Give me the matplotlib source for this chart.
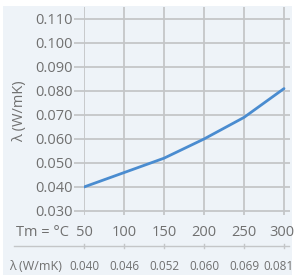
import matplotlib.pyplot as plt
from matplotlib.patches import Rectangle
from matplotlib.lines import Line2D

temps = [50, 100, 150, 200, 250, 300]
lam = [0.040, 0.046, 0.052, 0.060, 0.069, 0.081]
lam_labels = ["0.040", "0.046", "0.052", "0.060", "0.069", "0.081"]
y_ticks = [0.030, 0.040, 0.050, 0.060, 0.070, 0.080, 0.090, 0.100, 0.110]

plt.rcParams['font.family'] = ['Open Sans', 'DejaVu Sans']
txt = '#707070'
grid = '#c4c6c8'
W, H = 294, 275

fig = plt.figure(figsize=(2.94, 2.75), dpi=100, facecolor='white')
fig.patches.append(Rectangle((3 / W, 0), 289 / W, 1 - 6 / H, transform=fig.transFigure,
                             facecolor='#eef3f8', edgecolor='none', zorder=-10))

# axes in pixel coords: left 84 (x=50), right 290, top 7, bottom 215
ax = fig.add_axes([84 / W, 1 - 215 / H, (290 - 84) / W, (215 - 7) / H])
ax.set_facecolor('none')
x0, x1 = 50, 50 + (290 - 84) * 50 / 40
ax.set_xlim(x0, x1)
ylo = 0.030 - 4 / 24 * 0.01
yhi = 0.110 + 12 / 24 * 0.01
ax.set_ylim(ylo, yhi)

for t in temps:
    ax.axvline(t, color=grid, lw=1.3, zorder=1)
for v in y_ticks:
    ax.axhline(v, color=grid, lw=1.3, zorder=1)

ax.plot(temps, lam, color='#4a8cd0', lw=2, zorder=3, solid_capstyle='round')

for s in ax.spines.values():
    s.set_visible(False)
ax.set_yticks(y_ticks)
ax.set_yticklabels(["%.3f" % v for v in y_ticks])
ax.tick_params(axis='y', length=7, width=1.3, color=grid, labelcolor=txt,
               labelsize=10.5, pad=1)
ax.set_xticks([])
ax.set_ylabel('λ (W/mK)', color=txt, fontsize=10.5, labelpad=6)

# bottom table rows
def fx(t, nudge=0):
    return (84 + (t - 50) * 40 / 50 + nudge) / W

def fy(py):
    return 1 - py / H

for i, t in enumerate(temps):
    nudge = -2 if i == len(temps) - 1 else 0
    fig.text(fx(t, nudge), fy(232), str(t), ha='center', va='center', color=txt, fontsize=10.5)
fig.text(43 / W, fy(232), 'Tm = °C', ha='center', va='center', color=txt, fontsize=10.5)

fig.add_artist(Line2D([14 / W, 289 / W], [fy(246), fy(246)], transform=fig.transFigure,
                      color=grid, lw=1))
for t in temps:
    fig.add_artist(Line2D([fx(t), fx(t)], [fy(244), fy(248)], transform=fig.transFigure,
                          color=grid, lw=1))

fig.text(36 / W, fy(267), 'λ (W/mK)', ha='center', va='center', color=txt, fontsize=9)
for i, (t, s) in enumerate(zip(temps, lam_labels)):
    nudge = -5 if i == len(temps) - 1 else 0
    fig.text(fx(t, nudge), fy(267), s, ha='center', va='center', color=txt, fontsize=8.5)

fig.savefig('out.png', dpi=100, facecolor='white')
